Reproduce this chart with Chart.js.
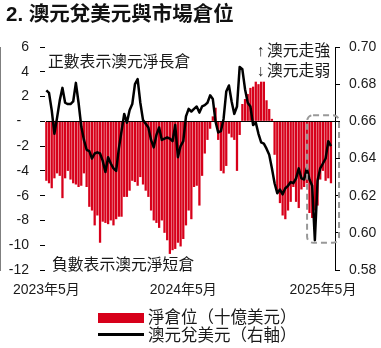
<!DOCTYPE html>
<html>
<head>
<meta charset="utf-8">
<script src="https://cdn.jsdelivr.net/npm/chart.js@4.4.1/dist/chart.umd.min.js"></script>
<style>
    body { margin: 0; background: #fff; }
    #wrap { position: relative; width: 381px; height: 348px; font-family: "Liberation Sans", "Noto Sans CJK TC", sans-serif; color: #1a1a1a; }
    #wrap canvas { position: absolute; left: 0; top: 0; }
    #title { position: absolute; left: 6px; top: 2px; font-size: 20.5px; line-height: 24px; font-weight: bold; color: #111; white-space: nowrap; }
    .leg-box { position: absolute; left: 98px; width: 46px; }
    .leg-txt { position: absolute; left: 148px; font-size: 16.5px; line-height: 20px; white-space: nowrap; }
</style>
</head>
<body>
<div id="wrap">
    <canvas id="audChart" width="381" height="348"></canvas>
    <div id="title">2. 澳元兌美元與市場倉位</div>
    <div class="leg-box" style="top:313px; height:10px; background:#d7001a;"></div>
    <div class="leg-txt" style="top:307px;">淨倉位（十億美元）</div>
    <div class="leg-box" style="top:333px; height:3px; background:#000;"></div>
    <div class="leg-txt" style="top:325px;">澳元兌美元（右軸）</div>
</div>
<script>
// date de baza
const startWeek = '2023-05-02'
const weekCount = 108

// pozitia neta (miliarde USD), saptamanal
const netPosition = [
    -4.8, -5.0, -5.4, -4.6, -4.2, -4.4, -6.2, -4.6, -4.0, -4.7,
    -5.0, -5.1, -5.3, -5.2, -4.2, -5.3, -6.9, -7.2, -8.4, -7.6,
    -9.8, -8.1, -8.2, -8.3, -8.0, -8.4, -7.9, -7.7, -7.7, -6.1,
    -6.1, -5.6, -4.8, -4.9, -5.2, -4.5, -5.1, -5.6, -6.1, -7.2,
    -8.0, -8.2, -8.6, -8.0, -9.0, -9.6, -10.7, -10.4, -10.3, -9.8,
    -10.1, -9.5, -8.4, -7.2, -7.9, -5.3, -5.2, -6.8, -4.4, -2.6,
    -1.5, -0.6, 0.4, 1.1, -1.5, -4.0, -4.2, -3.6, -1.0, -1.3,
    -1.5, -4.0, -1.1, 1.4, 1.8, 2.2, 2.7, 2.8, 3.2, 3.0,
    3.2, 3.2, 1.7, 1.0, 0.2, -2.7, -5.8, -6.6, -7.6, -7.9,
    -7.2, -6.5, -5.3, -6.5, -7.0, -5.5, -5.3, -5.0, -7.4, -7.8,
    -7.2, -6.8, -4.7, -4.0, -4.8, -4.6, -5.0
]

// AUD/USD (axa dreapta)
const audUsd = [
    0.6767, 0.6753, 0.6660, 0.6533, 0.6620, 0.6713, 0.6780, 0.6700, 0.6693, 0.6693,
    0.6707, 0.6807, 0.6700, 0.6573, 0.6500, 0.6447, 0.6440, 0.6400, 0.6427, 0.6433,
    0.6427, 0.6387, 0.6327, 0.6407, 0.6373, 0.6347, 0.6333, 0.6453, 0.6547, 0.6640,
    0.6593, 0.6660, 0.6693, 0.6800, 0.6827, 0.6700, 0.6607, 0.6587, 0.6567, 0.6500,
    0.6460, 0.6527, 0.6567, 0.6500, 0.6507, 0.6513, 0.6507, 0.6493, 0.6580, 0.6407,
    0.6467, 0.6493, 0.6627, 0.6667, 0.6653, 0.6667, 0.6680, 0.6647, 0.6680, 0.6687,
    0.6700, 0.6740, 0.6720, 0.6600, 0.6540, 0.6547, 0.6613, 0.6760, 0.6793, 0.6707,
    0.6640, 0.6680, 0.6893, 0.6880, 0.6773, 0.6700, 0.6680, 0.6580, 0.6593, 0.6533,
    0.6487, 0.6480, 0.6453, 0.6420, 0.6347, 0.6267, 0.6213, 0.6233, 0.6207, 0.6240,
    0.6253, 0.6273, 0.6267, 0.6293, 0.6347, 0.6293, 0.6287, 0.6347, 0.6287, 0.6253,
    0.5960, 0.6280, 0.6347, 0.6373, 0.6400, 0.6493, 0.6467
]

// etichete axa x
const xTickAt = [0, 51, 103]
const xTickText = ['2023年5月', '2024年5月', '2025年5月']

// zona evidentiata (indici saptamani / valori axa stanga)
const boxFrom = 97.1, boxTo = 109
const boxTop = 0.5, boxBottom = -9.8

// categorii: saptamani
var weeks = []
var d0 = new Date(startWeek + 'T00:00:00Z')
for (var i = 0; i < weekCount; i++) {
    weeks.push(new Date(d0.getTime() + i * 7 * 86400000).toISOString().slice(0, 10))
}

var textColor = '#1a1a1a'
var fontBase = '"Liberation Sans", "Noto Sans CJK TC", sans-serif'

// texte + chenar punctat
var notesPlugin = {
    id: 'notes',
    afterDatasetsDraw(chart) {
        var ctx = chart.ctx
        var area = chart.chartArea
        var xs = chart.scales.x
        var ys = chart.scales.y

        ctx.save()
        ctx.fillStyle = textColor
        ctx.font = '15.8px ' + fontBase
        ctx.textBaseline = 'middle'
        ctx.textAlign = 'left'
        ctx.fillText('正數表示澳元淨長倉', area.left + 3, area.top + 16)
        ctx.fillText('負數表示澳元淨短倉', area.left + 7, area.bottom - 4)
        ctx.fillText('↑', area.right - 78, area.top + 5)
        ctx.fillText('澳元走強', area.right - 68, area.top + 5)
        ctx.fillText('↓', area.right - 78, area.top + 25)
        ctx.fillText('澳元走弱', area.right - 68, area.top + 25)

        var x1 = xs.getPixelForValue(boxFrom)
        var x2 = xs.getPixelForValue(boxTo)
        var y1 = ys.getPixelForValue(boxTop)
        var y2 = ys.getPixelForValue(boxBottom)
        ctx.strokeStyle = '#999'
        ctx.lineWidth = 2
        ctx.setLineDash([6, 4])
        ctx.beginPath()
        ctx.roundRect(x1, y1, x2 - x1, y2 - y1, 6)
        ctx.stroke()
        ctx.restore()
    }
}

var ctx = document.getElementById('audChart').getContext('2d')
var audChart = new Chart(ctx, {
    type: 'bar',
    data: {
        labels: weeks,
        datasets: [{
            type: 'line',
            label: '澳元兌美元（右軸）',
            data: audUsd,
            yAxisID: 'y1',
            borderColor: '#000',
            borderWidth: 2.5,
            pointRadius: 0,
            tension: 0,
            borderJoinStyle: 'round',
            order: 0
        }, {
            type: 'bar',
            label: '淨倉位（十億美元）',
            data: netPosition,
            yAxisID: 'y',
            backgroundColor: '#d7001a',
            barPercentage: 0.85,
            categoryPercentage: 1.0,
            order: 1
        }]
    },
    options: {
        responsive: false,
        animation: false,
        layout: {
            padding: { top: 47, bottom: 48, left: 0, right: 0 }
        },
        plugins: {
            legend: { display: false },
            title: { display: false },
            tooltip: { enabled: false }
        },
        scales: {
            x: {
                offset: true,
                grid: { display: false, drawTicks: false },
                border: { display: false },
                ticks: {
                    autoSkip: false,
                    maxRotation: 0,
                    padding: 12,
                    color: textColor,
                    font: { size: 14, family: fontBase },
                    callback: function (v, i) {
                        var k = xTickAt.indexOf(i)
                        return k >= 0 ? xTickText[k] : ''
                    }
                },
                afterFit: function (s) { s.height = 30 }
            },
            y: {
                position: 'left',
                min: -12,
                max: 6,
                grid: {
                    z: 1,
                    color: function (c) { return c.tick && c.tick.value === 0 ? '#000' : 'rgba(0,0,0,0)' },
                    tickColor: '#000',
                    tickLength: 5
                },
                border: { color: '#000', width: 1 },
                ticks: {
                    stepSize: 2,
                    padding: 11,
                    color: textColor,
                    font: { size: 14, family: fontBase },
                    callback: function (v) { return v === 0 ? '-  ' : v }
                },
                afterFit: function (s) { s.width = 45 }
            },
            y1: {
                position: 'right',
                min: 0.58,
                max: 0.70,
                grid: { drawOnChartArea: false, tickColor: '#000', tickLength: 5 },
                border: { color: '#000', width: 1 },
                ticks: {
                    stepSize: 0.02,
                    padding: 9,
                    color: textColor,
                    font: { size: 14, family: fontBase },
                    callback: function (v) { return v.toFixed(2) }
                },
                afterFit: function (s) { s.width = 46 }
            }
        }
    },
    plugins: [notesPlugin]
})
</script>
</body>
</html>
